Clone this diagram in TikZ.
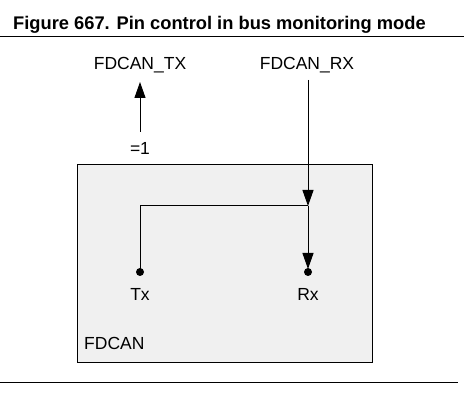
\documentclass[tikz,border=0pt]{standalone}
\usepackage{fontspec}
\setmainfont{Liberation Sans}
\usetikzlibrary{arrows.meta}
\begin{document}
\begin{tikzpicture}[x=1pt,y=-1pt,
  lbl/.style={font=\fontsize{17.5}{20}\selectfont, inner sep=0pt},
  wire/.style={line width=1pt},
  arr/.style={wire,-{Triangle[length=16pt,width=11pt]}},
  dot/.style={circle, fill=black, inner sep=0pt, minimum size=8pt}]
\useasboundingbox (0,0) rectangle (464,406);
\node[anchor=base west, font=\bfseries\fontsize{18.3}{21}\selectfont, inner sep=0pt] (title) at (13,30) {Figure 667. Pin control in bus monitoring mode};
\draw[line width=1pt] (0,37) -- (464,37);
\draw[line width=1pt] (0,383) -- (458,383);
\node[draw, line width=1pt, fill=black!6, minimum width=295pt, minimum height=198pt, anchor=north west, inner sep=0pt] (box) at (77,164) {};
\node[lbl] (ftx) at (140,65) {FDCAN\_TX};
\node[lbl] (frx) at (307,65) {FDCAN\_RX};
\node[lbl] (eq) at (140,148) {=1};
\coordinate (txs) at (140,132);
\coordinate (txe) at (140,82);
\draw[arr] (txs) -- (txe);
\coordinate (rxs) at (308,80);
\coordinate (j) at (308,206);
\coordinate (c) at (140,206);
\node[dot] (tx) at (140,272) {};
\node[dot] (rx) at (308,272) {};
\draw[arr] (rxs) -- (j);
\draw[arr,shorten >=3pt] (j) -- (rx.center);
\draw[wire] (j) -- (c) -- (tx.center);
\node[lbl] (txl) at (140,294) {Tx};
\node[lbl] (rxl) at (308,294) {Rx};
\node[lbl, anchor=west] (fd) at (84,343) {FDCAN};
\end{tikzpicture}
\end{document}
